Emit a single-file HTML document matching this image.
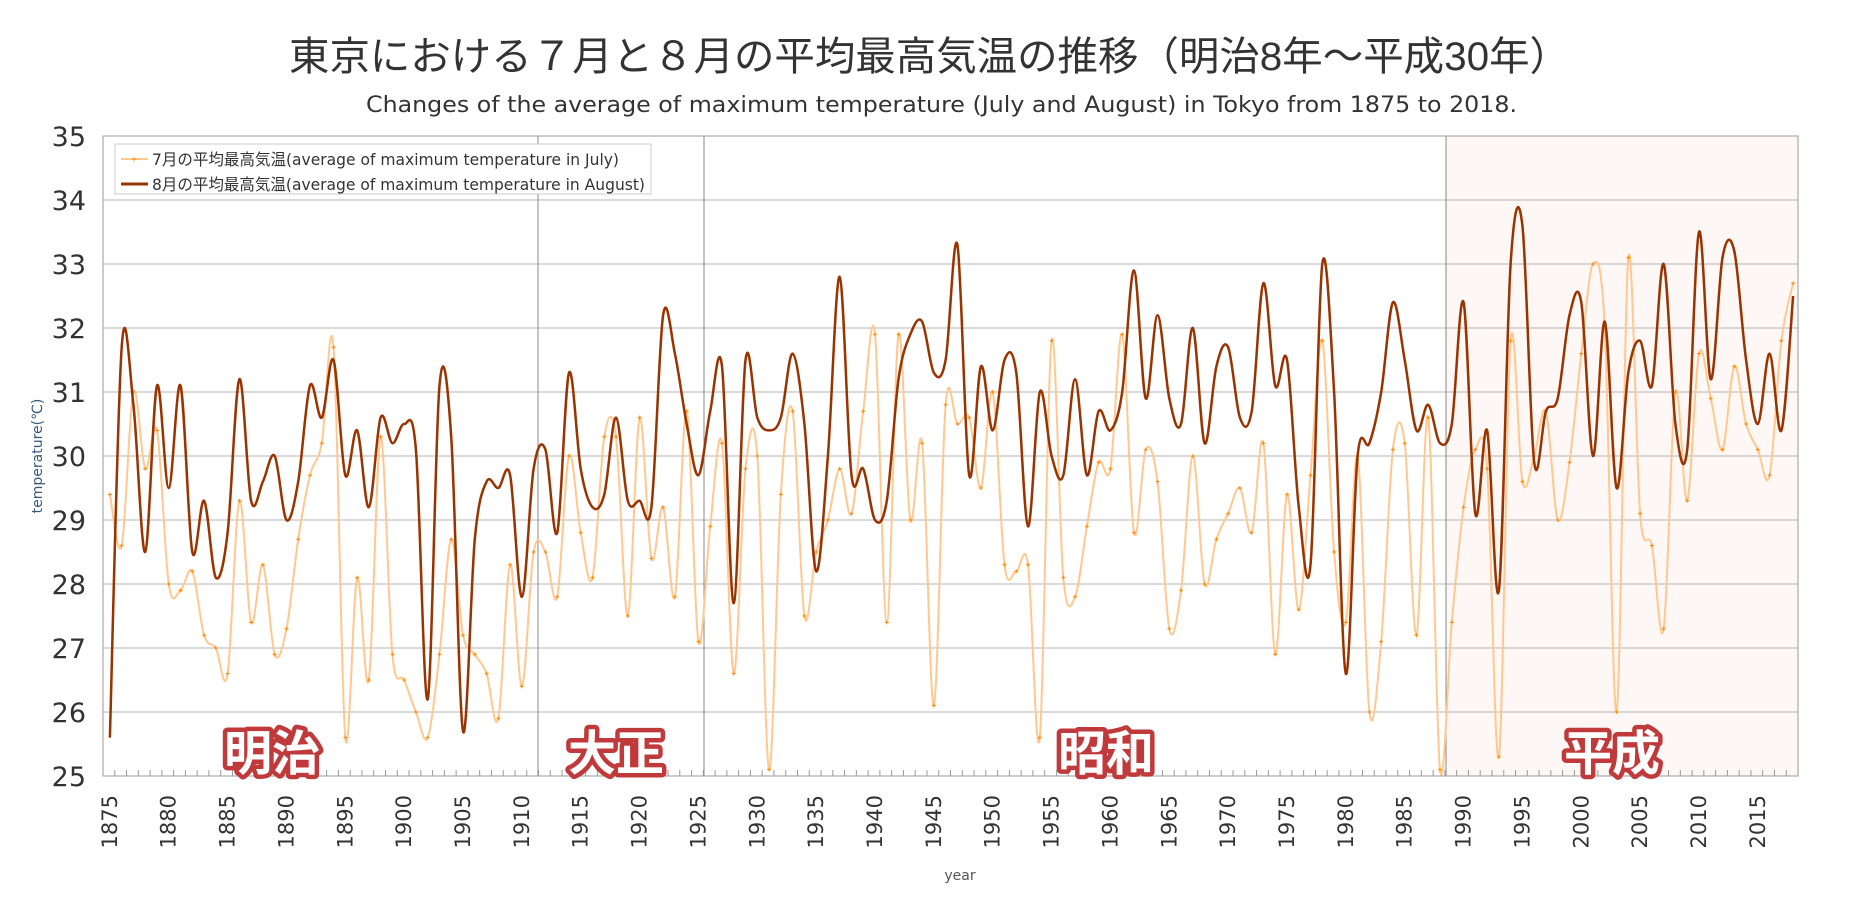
<!DOCTYPE html>
<html><head><meta charset="utf-8"><style>
html,body{margin:0;padding:0;background:#fff;}
svg{display:block;}
</style></head><body>
<svg id="s" width="1850" height="900" xmlns="http://www.w3.org/2000/svg">
<text x="289" y="70" font-family="'Liberation Sans','Noto Sans CJK JP',sans-serif" font-size="40" fill="#333" textLength="1281" lengthAdjust="spacingAndGlyphs">東京における７月と８月の平均最高気温の推移（明治8年～平成30年）</text>
<text x="366" y="112" font-family="'DejaVu Sans','Liberation Sans',sans-serif" font-size="22" fill="#333" textLength="1151" lengthAdjust="spacingAndGlyphs">Changes of the average of maximum temperature (July and August) in Tokyo from 1875 to 2018.</text>
<rect x="1446" y="136" width="352" height="640" fill="#fdf8f6"/>
<g id="grid"></g>
<g id="lines"></g>
<rect x="103" y="136" width="1695" height="640" fill="none" stroke="#999" stroke-width="1"/>
<g font-family="'Liberation Sans','Noto Sans CJK JP',sans-serif" font-size="48" font-weight="bold" fill="#fff" stroke="#c0393b" stroke-width="9" paint-order="stroke" stroke-linejoin="round" text-anchor="middle">
<text x="272" y="770">明治</text>
<text x="616" y="770">大正</text>
<text x="1106" y="770">昭和</text>
<text x="1612" y="770">平成</text>
</g>
<rect x="115" y="144" width="536" height="50" fill="#fff" stroke="#ccc"/>
<line x1="121" y1="159" x2="148" y2="159" stroke="#ffc890" stroke-width="2"/>
<text x="134" y="163" font-size="10" fill="#ff8c00" text-anchor="middle" font-family="sans-serif">+</text>
<line x1="121" y1="184" x2="148" y2="184" stroke="#993300" stroke-width="3"/>
<g font-family="'DejaVu Sans','Noto Sans CJK JP',sans-serif" font-size="16" fill="#333">
<text x="152" y="165" textLength="467" lengthAdjust="spacingAndGlyphs">7月の平均最高気温(average of maximum temperature in July)</text>
<text x="152" y="190" textLength="493" lengthAdjust="spacingAndGlyphs">8月の平均最高気温(average of maximum temperature in August)</text>
</g>
<g id="labels" font-family="'DejaVu Sans','Liberation Sans',sans-serif" fill="#333"></g>
<text x="960" y="880" font-family="'DejaVu Sans',sans-serif" font-size="14" fill="#555" text-anchor="middle">year</text>
<text transform="translate(42,456) rotate(-90)" font-family="'DejaVu Sans',sans-serif" font-size="14" fill="#3a5a7a" text-anchor="middle">temperature(℃)</text>
</svg>
<script>
var jul=[29.4,28.6,31.0,29.8,30.4,28.0,27.9,28.2,27.2,27.0,26.6,29.3,27.4,28.3,26.9,27.3,28.7,29.7,30.2,31.7,25.6,28.1,26.5,30.3,26.9,26.5,26.0,25.6,26.9,28.7,27.2,26.9,26.6,25.9,28.3,26.4,28.5,28.5,27.8,30.0,28.8,28.1,30.3,30.3,27.5,30.6,28.4,29.2,27.8,30.7,27.1,28.9,30.2,26.6,29.8,30.0,25.1,29.4,30.7,27.5,28.5,29.0,29.8,29.1,30.7,31.9,27.4,31.9,29.0,30.2,26.1,30.8,30.5,30.6,29.5,31.0,28.3,28.2,28.3,25.6,31.8,28.1,27.8,28.9,29.9,29.8,31.9,28.8,30.1,29.6,27.3,27.9,30.0,28.0,28.7,29.1,29.5,28.8,30.2,26.9,29.4,27.6,29.7,31.8,28.5,27.4,30.0,26.0,27.1,30.1,30.2,27.2,30.6,25.1,27.4,29.2,30.1,29.8,25.3,31.8,29.6,30.0,30.7,29.0,29.9,31.6,33.0,32.0,26.0,33.1,29.1,28.6,27.3,31.0,29.3,31.6,30.9,30.1,31.4,30.5,30.1,29.7,31.8,32.7];
var aug=[25.6,31.7,30.8,28.5,31.1,29.5,31.1,28.5,29.3,28.1,28.8,31.2,29.3,29.6,30.0,29.0,29.6,31.1,30.6,31.5,29.7,30.4,29.2,30.6,30.2,30.5,30.1,26.2,31.1,30.3,25.7,28.7,29.6,29.5,29.7,27.8,29.8,30.1,28.8,31.3,29.8,29.2,29.4,30.6,29.3,29.3,29.2,32.2,31.6,30.5,29.7,30.7,31.4,27.7,31.5,30.6,30.4,30.6,31.6,30.5,28.2,30.0,32.8,29.7,29.8,29.0,29.3,31.2,31.9,32.1,31.3,31.5,33.3,29.7,31.4,30.4,31.5,31.3,28.9,31.0,30.0,29.7,31.2,29.7,30.7,30.4,31.0,32.9,30.9,32.2,30.9,30.5,32.0,30.2,31.4,31.7,30.6,30.7,32.7,31.1,31.5,29.2,28.3,33.0,31.0,26.6,30.0,30.2,31.0,32.4,31.5,30.4,30.8,30.2,30.5,32.4,29.1,30.4,27.9,33.0,33.6,29.9,30.7,30.9,32.2,32.4,30.0,32.1,29.5,31.3,31.8,31.1,33.0,30.5,30.1,33.5,31.2,33.1,33.2,31.5,30.5,31.6,30.4,32.5];
var NS="http://www.w3.org/2000/svg";
function X(i){return 103+11.771*(i+0.5)+1;}
function Y(v){return 776-(v-25)*64;}
function el(t,a,p,txt){var e=document.createElementNS(NS,t);for(var k in a)e.setAttribute(k,a[k]);if(txt!=null)e.textContent=txt;p.appendChild(e);return e;}
var g=document.getElementById('grid'),lb=document.getElementById('labels'),ln=document.getElementById('lines');
for(var v=26;v<=34;v++)el('line',{x1:103,x2:1798,y1:Y(v),y2:Y(v),stroke:'#b4b4b4','stroke-width':1},g);
[538,704,1446].forEach(function(x){el('line',{x1:x,x2:x,y1:136,y2:776,stroke:'#888','stroke-width':1},g);});
for(var i=0;i<=144;i++){var x=103+11.771*i;el('line',{x1:x,x2:x,y1:770,y2:776,stroke:'#999','stroke-width':1},g);}
for(var v=25;v<=35;v++)el('text',{x:86,y:Y(v)+10,'font-size':27,'text-anchor':'end'},lb,String(v));
for(var yr=1875;yr<=2015;yr+=5){var x=X(yr-1875)+7;el('text',{transform:'translate('+x+',795) rotate(-90)','font-size':21,'text-anchor':'end'},lb,String(yr));}
function path(d){var s='M'+X(0)+','+Y(d[0]);for(var i=0;i<d.length-1;i++){var p0=i>0?i-1:i,p3=i+2<d.length?i+2:i+1;
var x1=X(i),y1=Y(d[i]),x2=X(i+1),y2=Y(d[i+1]);var t=6;
var c1x=x1+(x2-X(p0))/t,c1y=y1+(y2-Y(d[p0]))/t,c2x=x2-(X(p3)-x1)/t,c2y=y2-(Y(d[p3])-y1)/t;
s+=' C'+c1x.toFixed(1)+','+c1y.toFixed(1)+' '+c2x.toFixed(1)+','+c2y.toFixed(1)+' '+x2.toFixed(1)+','+y2.toFixed(1);}return s;}
el('path',{d:path(jul),fill:'none',stroke:'#ffc890','stroke-width':2},ln);
for(var i=0;i<jul.length;i++){var x=X(i),y=Y(jul[i]);el('path',{d:'M'+(x-2)+','+y+'h4M'+x+','+(y-2)+'v4',stroke:'#ff8c00','stroke-width':1},ln);}
el('path',{d:path(aug),fill:'none',stroke:'#993300','stroke-width':2.5},ln);
</script>
</body></html>
